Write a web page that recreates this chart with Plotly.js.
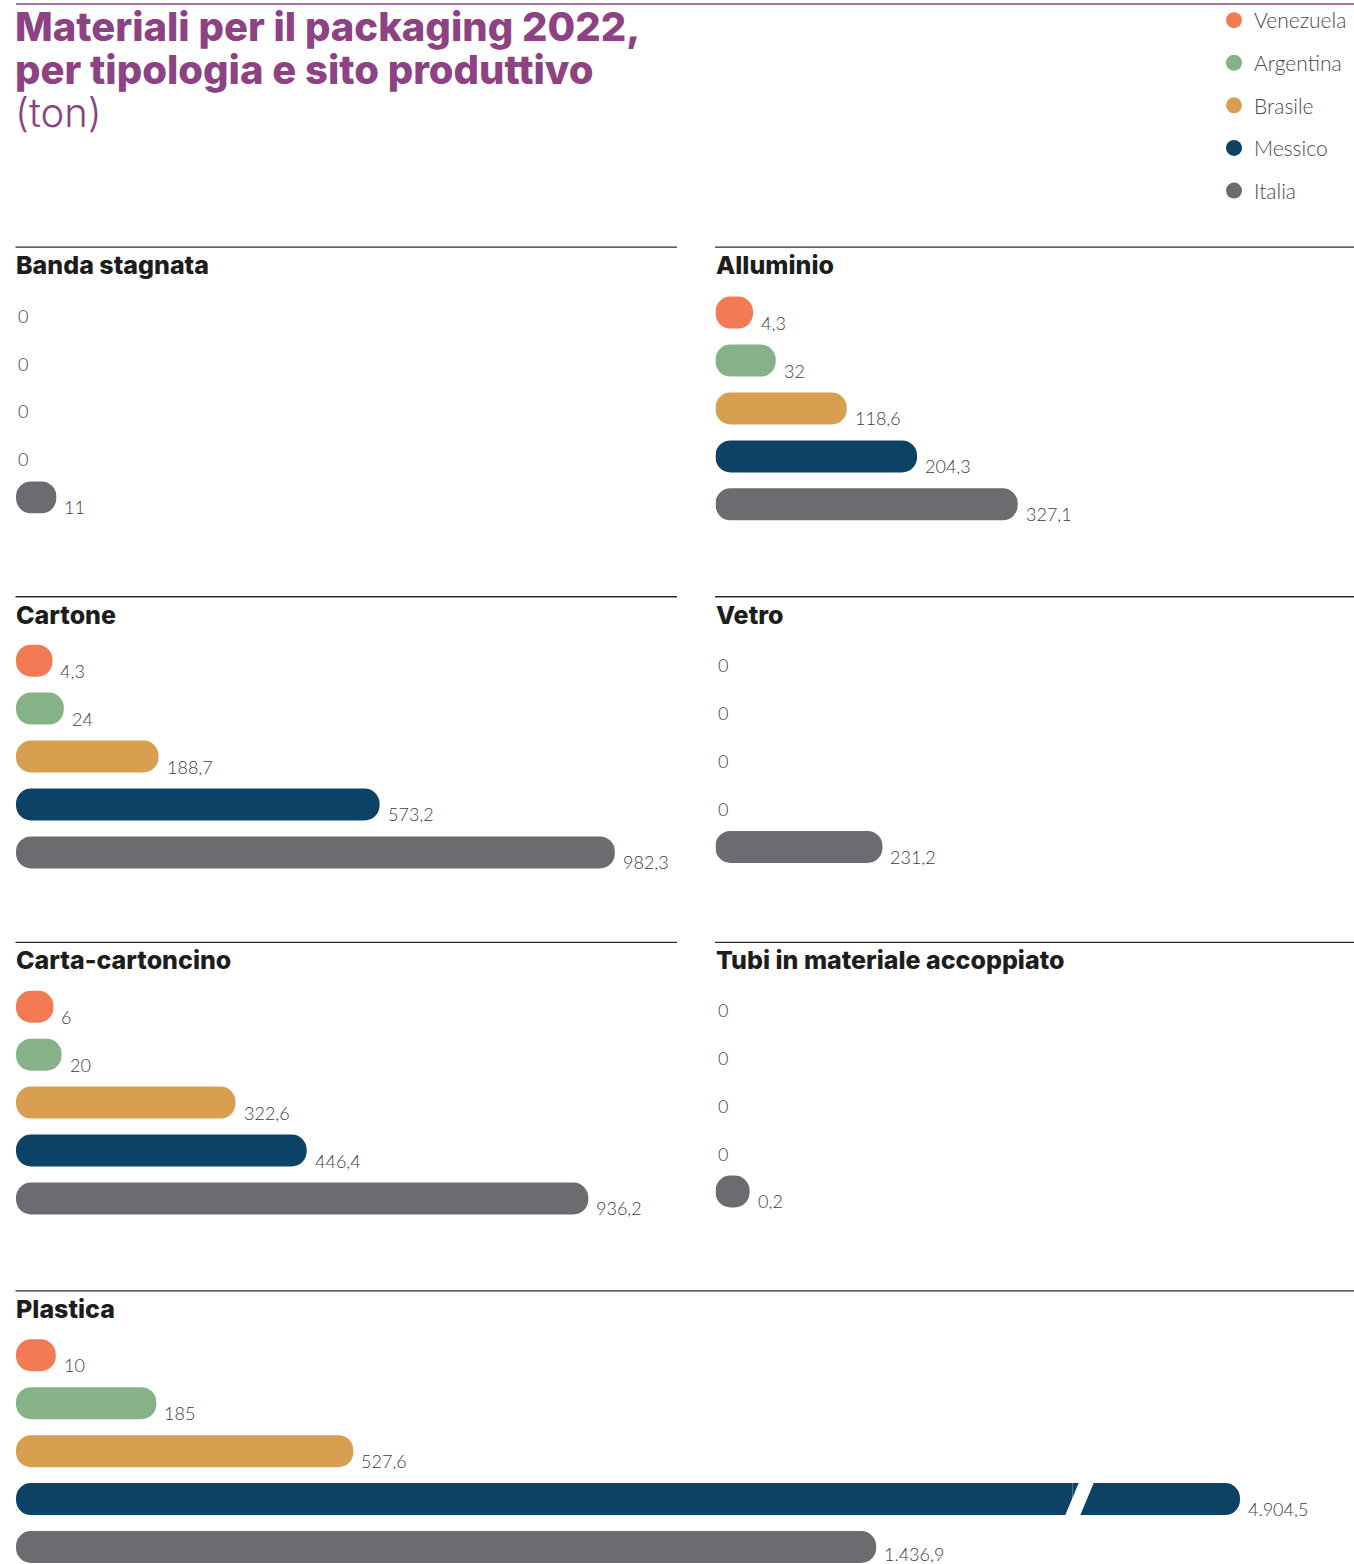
<!DOCTYPE html>
<html>
<head>
<meta charset="utf-8">
<script src="https://cdn.plot.ly/plotly-3.0.1.min.js"></script>
<style>
  html, body { margin: 0; padding: 0; background: #ffffff; }
  #chart { width: 1354px; height: 1564px; }
</style>
</head>
<body>
<div id="chart"></div>
<script>
// ---------------- DATA ----------------
const countries = ['Venezuela', 'Argentina', 'Brasile', 'Messico', 'Italia'];
const materials = ['Banda stagnata', 'Alluminio', 'Cartone', 'Vetro',
                   'Carta-cartoncino', 'Tubi in materiale accoppiato', 'Plastica'];
const bandaStagnata   = [0, 0, 0, 0, 11];
const alluminio       = [4.3, 32, 118.6, 204.3, 327.1];
const cartone         = [4.3, 24, 188.7, 573.2, 982.3];
const vetro           = [0, 0, 0, 0, 231.2];
const cartaCartoncino = [6, 20, 322.6, 446.4, 936.2];
const tubi            = [0, 0, 0, 0, 0.2];
const plastica        = [10, 185, 527.6, 4904.5, 1436.9];
const seriesByMaterial = [bandaStagnata, alluminio, cartone, vetro, cartaCartoncino, tubi, plastica];

const titleLine1 = 'Materiali per il packaging 2022,';
const titleLine2 = 'per tipologia e sito produttivo';
const titleUnit  = '(ton)';

// ---------------- STYLE / GEOMETRY ----------------
const W = 1354, H = 1564;
const countryColors = ['#f27a55', '#86b288', '#d99f50', '#0c4266', '#6b6c70'];
const purple = '#8c4283';
const FONT = 'Lato, "Open Sans", "DejaVu Sans", sans-serif';
const HFONT = 'Inter, "Open Sans", "DejaVu Sans", sans-serif';
const ROW_PX = 48, BAR_PX = 32, CAP_PX = 34;

// panel placement in pixels (layout only)
const panelGeom = [
  {x0: 16,    x1: 677,    top: 280,   line: 245.5,  lineX1: 677,  scale: 0.575},
  {x0: 715.5, x1: 1354,   top: 287,   line: 245.5,  lineX1: 1354, scale: 0.82},
  {x0: 16,    x1: 677,    top: 635.5, line: 595.5,  lineX1: 677,  scale: 0.575},
  {x0: 715.5, x1: 1354,   top: 630,   line: 595.5,  lineX1: 1354, scale: 0.575},
  {x0: 16,    x1: 677,    top: 982,   line: 941.5,  lineX1: 677,  scale: 0.575},
  {x0: 715.5, x1: 1354,   top: 975,   line: 941.5,  lineX1: 1354, scale: 0.575},
  {x0: 16,    x1: 1072.5, top: 1331,  line: 1290.5, lineX1: 1354, scale: 0.575,
   breakX1: 1354, breakEndPx: 1240}
];

const fx = p => p / W;
const fy = p => 1 - p / H;

function fmt(v) {
  const s = (Math.round(v * 10) / 10).toString();
  let [i, d] = s.split('.');
  i = i.replace(/\B(?=(\d{3})+(?!\d))/g, '.');
  return d ? i + ',' + d : i;
}

const traces = [];
const layout = {
  width: W, height: H,
  margin: {l: 0, r: 0, t: 0, b: 0},
  paper_bgcolor: '#ffffff', plot_bgcolor: 'rgba(0,0,0,0)',
  barmode: 'overlay',
  showlegend: true,
  font: {family: FONT},
  annotations: [],
  shapes: []
};

function hiddenAxis(extra) {
  return Object.assign({visible: false, showgrid: false, zeroline: false,
                        fixedrange: true, showticklabels: false}, extra);
}

// pill-shaped bars (explicit base -> both ends rounded)
function addPills(vals, xa, ya, capU) {
  const totals = vals.map(v => v > 0 ? v + capU : null);
  traces.push({
    type: 'bar', orientation: 'h', xaxis: xa, yaxis: ya,
    y: countries, x: totals, base: vals.map(() => 0),
    width: BAR_PX / ROW_PX, opacity: 1,
    marker: {color: countryColors, line: {width: 0}, cornerradius: 15},
    customdata: vals, hovertemplate: '%{y}: %{customdata}<extra></extra>',
    showlegend: false
  });
  return totals;
}

panelGeom.forEach((g, i) => {
  const k = i + 1;
  const xa = 'x' + k, ya = 'y' + k;
  const vals = seriesByMaterial[i];
  const capU = CAP_PX / g.scale;
  const xMax = (g.x1 - g.x0) / g.scale;
  const botPx = Math.min(g.top + 5 * ROW_PX, H);

  layout['xaxis' + k] = hiddenAxis({domain: [fx(g.x0), fx(g.x1)], range: [0, xMax], anchor: ya});
  layout['yaxis' + k] = hiddenAxis({
    domain: [fy(botPx), fy(g.top)], anchor: xa, type: 'category',
    categoryorder: 'array', categoryarray: countries,
    range: [-0.5 + (botPx - g.top) / ROW_PX, -0.5]
  });

  const totals = addPills(vals, xa, ya, capU);

  // broken axis continuation (Plastica)
  let xaBreak = null;
  if (g.breakX1) {
    const kb = panelGeom.length + 1;
    xaBreak = 'x' + kb;
    const maxTotal = Math.max(...totals.filter(t => t !== null));
    const lo = maxTotal - (g.breakEndPx - g.x1) / g.scale;
    const hi = maxTotal + (g.breakX1 - g.breakEndPx) / g.scale;
    layout['xaxis' + kb] = hiddenAxis({domain: [fx(g.x1), fx(g.breakX1)], range: [lo, hi], anchor: ya});
    addPills(vals, xaBreak, ya, capU);
    // slanted cut of the broken bar
    const cy = g.top + countries.indexOf('Messico') * ROW_PX + ROW_PX / 2;
    const t = cy - BAR_PX / 2 - 2, b = cy + BAR_PX / 2 + 2;
    const xm = g.x1, slant = 7.5, gapHalf = 7.5;
    const P = (x, y) => fx(x).toFixed(5) + ',' + fy(y).toFixed(5);
    layout.shapes.push({
      type: 'path', xref: 'paper', yref: 'paper', layer: 'above',
      path: 'M' + P(xm + slant - 0.5, t) + ' L' + P(xm + slant + 2 * gapHalf - 0.5, t) +
            ' L' + P(xm - slant + 2 * gapHalf - 0.5, b) + ' L' + P(xm - slant - 0.5, b) + ' Z',
      fillcolor: '#ffffff', line: {width: 0}
    });
  }

  // value labels
  vals.forEach((v, j) => {
    const onBreak = totals[j] !== null && totals[j] > xMax && xaBreak;
    const rowCenterPx = g.top + j * ROW_PX + ROW_PX / 2;
    const ys = -Math.min(10, H - 10 - rowCenterPx);
    layout.annotations.push({
      xref: onBreak ? xaBreak : xa, yref: ya,
      x: v > 0 ? totals[j] : 0, y: countries[j],
      text: fmt(v), showarrow: false,
      xanchor: 'left', yanchor: 'middle',
      xshift: v > 0 ? 6 : 0, yshift: ys,
      font: {family: FONT, size: 18, color: '#3c3c3c', weight: 300}
    });
  });

  // panel header
  layout.shapes.push({
    type: 'line', xref: 'paper', yref: 'paper',
    x0: fx(g.x0 - 0.5), x1: fx(g.lineX1), y0: fy(g.line), y1: fy(g.line),
    line: {color: '#2b2b2b', width: 1.3}
  });
  layout.annotations.push({
    xref: 'paper', yref: 'paper', x: fx(g.x0 - 2), y: fy(g.line + 18),
    xanchor: 'left', yanchor: 'middle', showarrow: false,
    text: materials[i],
    font: {family: HFONT, size: 25, color: '#1d1d1b', weight: 800}
  });
});

// main title
layout.shapes.push({
  type: 'line', xref: 'paper', yref: 'paper',
  x0: fx(16), x1: 1, y0: fy(2), y1: fy(2),
  line: {color: purple, width: 1.3}
});
[[titleLine1, 25, 800, 40], [titleLine2, 68, 800, 40], [titleUnit, 111, 300, 40]].forEach(([txt, yc, wt, sz]) => {
  layout.annotations.push({
    xref: 'paper', yref: 'paper', x: fx(13), y: fy(yc),
    xanchor: 'left', yanchor: 'middle', showarrow: false,
    text: txt, font: {family: HFONT, size: sz, color: purple, weight: wt}
  });
});

// legend entries
countries.forEach((c, j) => {
  traces.push({
    type: 'scatter', mode: 'markers', x: [null], y: [null],
    xaxis: 'x1', yaxis: 'y1', name: c, legendgroup: c,
    marker: {color: countryColors[j], size: 16, symbol: 'circle'},
    showlegend: true, hoverinfo: 'skip'
  });
});
layout.legend = {
  x: fx(1214), xanchor: 'left', y: fy(-2), yanchor: 'top',
  font: {family: FONT, size: 21, color: '#4a4a4a', weight: 300},
  tracegroupgap: 12.3, bgcolor: 'rgba(0,0,0,0)', borderwidth: 0,
  itemclick: false, itemdoubleclick: false, itemsizing: 'trace'
};

Plotly.newPlot('chart', traces, layout, {displayModeBar: false, responsive: false});
</script>
</body>
</html>
